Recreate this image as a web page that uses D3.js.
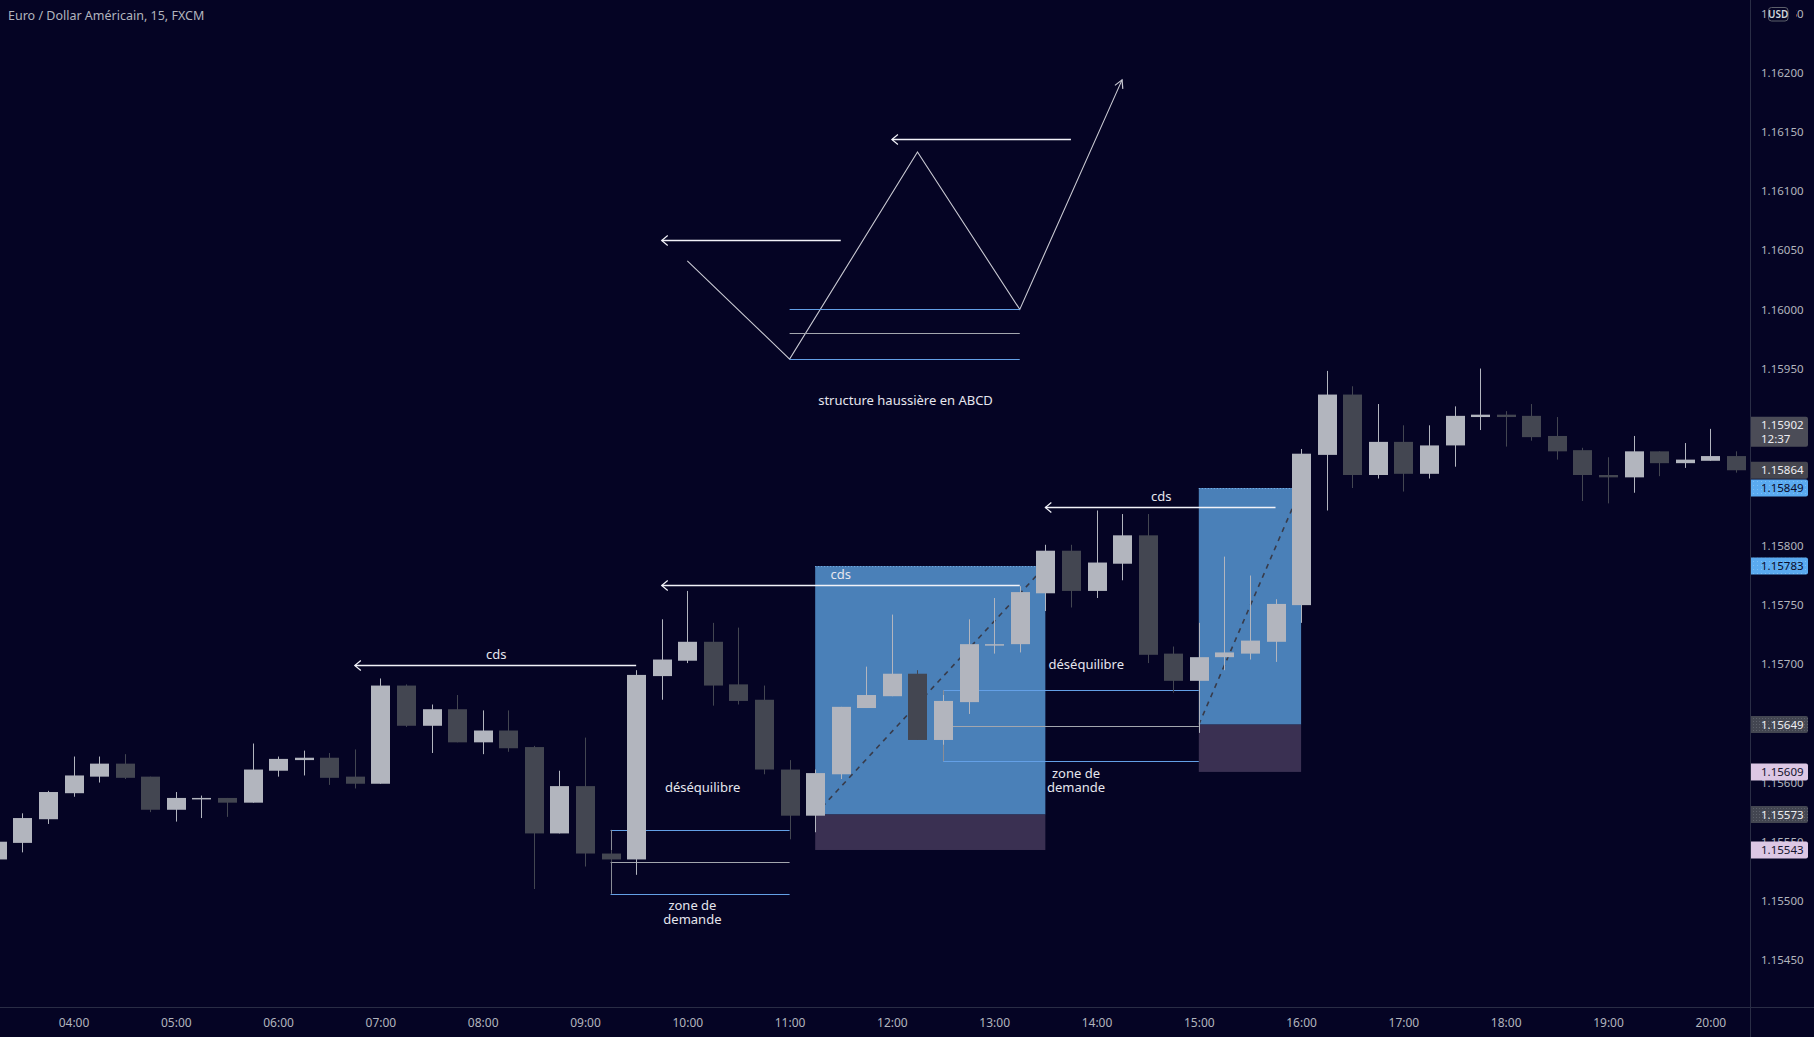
<!DOCTYPE html>
<html><head><meta charset="utf-8">
<script src="https://cdn.jsdelivr.net/npm/d3@7"></script>
<style>body{margin:0;background:#050424;overflow:hidden} svg{display:block}</style>
</head><body>
<svg id="c" width="1814" height="1037"></svg>
<script>
// ---------------- DATA ----------------
const times = ["03:15","03:30","03:45","04:00","04:15","04:30","04:45","05:00","05:15","05:30","05:45",
"06:00","06:15","06:30","06:45","07:00","07:15","07:30","07:45","08:00","08:15","08:30","08:45",
"09:00","09:15","09:30","09:45","10:00","10:15","10:30","10:45","11:00","11:15","11:30","11:45",
"12:00","12:15","12:30","12:45","13:00","13:15","13:30","13:45","14:00","14:15","14:30","14:45",
"15:00","15:15","15:30","15:45","16:00","16:15","16:30","16:45","17:00","17:15","17:30","17:45",
"18:00","18:15","18:30","18:45","19:00","19:15","19:30","19:45","20:00","20:15"];
const opens  = [1.15535,1.15549,1.15569,1.15591,1.15605,1.15616,1.15605,1.15577,1.15586,1.15587,1.15583,
1.15610,1.15619,1.15621,1.15605,1.15599,1.15682,1.15648,1.15662,1.15634,1.15644,1.15630,1.15557,
1.15597,1.15540,1.15535,1.15690,1.15703,1.15719,1.15683,1.15670,1.15611,1.15572,1.15607,1.15663,
1.15673,1.15692,1.15636,1.15668,1.15716,1.15717,1.15760,1.15796,1.15762,1.15785,1.15809,1.15709,
1.15686,1.15706,1.15709,1.15719,1.15750,1.15877,1.15928,1.15860,1.15888,1.15861,1.15885,1.15909,
1.15911,1.15910,1.15893,1.15881,1.15860,1.15858,1.15880,1.15870,1.15872,1.15876];
const highs  = [1.15553,1.15574,1.15593,1.15622,1.15622,1.15624,1.15605,1.15592,1.15589,1.15587,1.15633,
1.15622,1.15627,1.15625,1.15628,1.15688,1.15683,1.15666,1.15674,1.15661,1.15661,1.15631,1.15610,
1.15638,1.15543,1.15695,1.15738,1.15762,1.15735,1.15731,1.15682,1.15619,1.15611,1.15664,1.15698,
1.15742,1.15695,1.15674,1.15738,1.15756,1.15766,1.15801,1.15801,1.15830,1.15827,1.15827,1.15715,
1.15735,1.15791,1.15775,1.15755,1.15882,1.15948,1.15935,1.15920,1.15902,1.15902,1.15918,1.15950,
1.15914,1.15920,1.15909,1.15883,1.15875,1.15893,1.15880,1.15887,1.15899,1.15880];
const lows   = [1.15530,1.15541,1.15565,1.15588,1.15600,1.15603,1.15575,1.15567,1.15570,1.15571,1.15583,
1.15605,1.15606,1.15598,1.15595,1.15599,1.15647,1.15625,1.15634,1.15624,1.15626,1.15510,1.15557,
1.15529,1.15533,1.15522,1.15670,1.15701,1.15665,1.15666,1.15607,1.15552,1.15558,1.15603,1.15663,
1.15673,1.15636,1.15632,1.15658,1.15709,1.15710,1.15745,1.15748,1.15756,1.15771,1.15701,1.15676,
1.15642,1.15695,1.15704,1.15702,1.15735,1.15830,1.15849,1.15857,1.15846,1.15857,1.15867,1.15898,
1.15884,1.15889,1.15873,1.15838,1.15836,1.15845,1.15859,1.15866,1.15872,1.15862];
const closes = [1.15550,1.15570,1.15592,1.15606,1.15616,1.15604,1.15577,1.15587,1.15587,1.15583,1.15611,
1.15620,1.15621,1.15604,1.15599,1.15682,1.15648,1.15662,1.15634,1.15644,1.15629,1.15557,1.15597,
1.15540,1.15535,1.15691,1.15704,1.15719,1.15682,1.15669,1.15611,1.15572,1.15608,1.15664,1.15674,
1.15692,1.15636,1.15669,1.15717,1.15717,1.15761,1.15796,1.15762,1.15786,1.15809,1.15708,1.15686,
1.15706,1.15710,1.15720,1.15751,1.15878,1.15928,1.15860,1.15888,1.15861,1.15885,1.15910,1.15911,
1.15909,1.15892,1.15880,1.15860,1.15858,1.15880,1.15870,1.15873,1.15876,1.15864];

const hourLabels = ["04:00","05:00","06:00","07:00","08:00","09:00","10:00","11:00","12:00",
"13:00","14:00","15:00","16:00","17:00","18:00","19:00","20:00"];
const priceTicks = [1.16250,1.16200,1.16150,1.16100,1.16050,1.16000,1.15950,1.15900,1.15850,
1.15800,1.15750,1.15700,1.15650,1.15600,1.15550,1.15500,1.15450];
const hiddenTicks = [1.15900,1.15850,1.15650];

const title = "Euro / Dollar Américain, 15, FXCM";
const currency = "USD";

// right-axis price labels (role -> look chosen in code)
const axisLabelPrices = [1.15902,1.15864,1.15849,1.15783,1.15649,1.15609,1.15573,1.15543];
const axisLabelRoles  = ["countdown","lastClose","zoneTop","zoneTop","zoneMid","zoneBottom","zoneMid","zoneBottom"];
const countdownText = "12:37";

// ABCD sketch
const abcdPoints = [["10:00",1.16041],["11:00",1.15958],["12:15",1.16133],["13:15",1.16000],["14:15",1.16194]];
const abcdArrows = [{from:"11:30",to:"09:45",price:1.16059},{from:"13:45",to:"12:00",price:1.16144}];
const abcdLevels = [{from:"11:00",to:"13:15",price:1.16000,role:"edge"},
                    {from:"11:00",to:"13:15",price:1.15980,role:"mid"},
                    {from:"11:00",to:"13:15",price:1.15958,role:"edge"}];
const abcdText = {time:"12:08",price:1.15923,text:"structure haussière en ABCD"};

// "cds" arrows
const cdsArrows = [
  {from:"09:30",to:"06:45",price:1.15699,labelTime:"08:08",labelPrice:1.15708},
  {from:"13:15",to:"09:45",price:1.15767,labelTime:"11:30",labelPrice:1.15776},
  {from:"15:45",to:"13:30",price:1.15833,labelTime:"14:38",labelPrice:1.15842}];

// position boxes
const boxes = [
  {start:"11:15",end:"13:30",top:1.15783,mid:1.15573,bottom:1.15543},
  {start:"15:00",end:"16:00",top:1.15849,mid:1.15649,bottom:1.15609}];

// demand zones
const zones = [
  {start:"09:15",end:"11:00",top:1.15560,mid:1.15533,bottom:1.15506,labelTime:"10:03",labelPrice:1.15496},
  {start:"12:30",end:"15:00",top:1.15678,mid:1.15648,bottom:1.15618,labelTime:"13:48",labelPrice:1.15608}];
const zoneLabel = ["zone de","demande"];

const imbalanceLabels = [{time:"10:09",price:1.15596},{time:"13:54",price:1.15700}];
const imbalanceText = "déséquilibre";

// ---------------- DRAW ----------------
const W=1814, H=1037, plotR=1750, plotB=1007;
const BG="#050424", UP="#b2b5be", DOWN="#434651", TXT="#b2b5be", NOTE="#e6e6ee";
const FONT="'Noto Sans', 'Open Sans', sans-serif";
const AX=11.5;
const toMin = s => { const [h,m]=s.split(":").map(Number); return h*60+m; };
const x = d3.scaleLinear().domain([toMin("04:00"), toMin("20:00")]).range([73.5, 1710.3]);
const y = d3.scaleLinear().domain([1.16200, 1.15450]).range([72.8, 960]);

const svg = d3.select("#c");
svg.append("rect").attr("width",W).attr("height",H).attr("fill",BG);

const defs = svg.append("defs");
defs.append("clipPath").attr("id","plot").append("rect").attr("width",plotR).attr("height",plotB);
const pat = defs.append("pattern").attr("id","dots").attr("width",3).attr("height",3).attr("patternUnits","userSpaceOnUse");
pat.append("rect").attr("width",3).attr("height",3).attr("fill","#434651");
pat.append("rect").attr("x",1).attr("y",1).attr("width",1).attr("height",1).attr("fill","#5d606b");
const patB = defs.append("pattern").attr("id","dotsB").attr("width",4).attr("height",4).attr("patternUnits","userSpaceOnUse");
patB.append("rect").attr("width",4).attr("height",4).attr("fill","#5aaaf0");
patB.append("rect").attr("x",1).attr("y",1).attr("width",1).attr("height",1).attr("fill","#7cc0f6");

const plot = svg.append("g").attr("clip-path","url(#plot)");

// boxes
boxes.forEach(b=>{
  const x0=x(toMin(b.start)), x1=x(toMin(b.end));
  plot.append("rect").attr("x",x0).attr("y",y(b.top)).attr("width",x1-x0).attr("height",y(b.mid)-y(b.top)).attr("fill","#4a80b8");
  plot.append("rect").attr("x",x0).attr("y",y(b.mid)).attr("width",x1-x0).attr("height",y(b.bottom)-y(b.mid)).attr("fill","#3a3052");
  plot.append("line").attr("x1",x0).attr("x2",x1).attr("y1",y(b.top)+0.5).attr("y2",y(b.top)+0.5)
    .attr("stroke","#7fb6ee").attr("stroke-width",1).attr("stroke-dasharray","1,2");
  plot.append("line").attr("x1",x0).attr("y1",y(b.mid)).attr("x2",x1).attr("y2",y(b.top))
    .attr("stroke","#383b4a").attr("stroke-width",1.6).attr("stroke-dasharray","5,5");
});

// zones
zones.forEach(z=>{
  const x0=x(toMin(z.start)), x1=x(toMin(z.end));
  [["top","#64a0e6"],["mid","#a3a6ae"],["bottom","#64a0e6"]].forEach(([k,c])=>{
    plot.append("line").attr("x1",x0).attr("x2",x1).attr("y1",Math.round(y(z[k]))+0.5).attr("y2",Math.round(y(z[k]))+0.5)
      .attr("stroke",c).attr("stroke-width",1);
  });
  plot.append("line").attr("x1",Math.round(x0)+0.5).attr("x2",Math.round(x0)+0.5).attr("y1",y(z.top)).attr("y2",y(z.bottom))
    .attr("stroke","#8a8d96").attr("stroke-width",1);
});

// candles
const candles = times.map((t,i)=>({t:toMin(t),o:opens[i],h:highs[i],l:lows[i],c:closes[i]}));
const bw = 19;
const cg = plot.append("g");
cg.selectAll("line.w").data(candles).join("line").attr("class","w")
  .attr("x1",d=>Math.round(x(d.t))+0.5).attr("x2",d=>Math.round(x(d.t))+0.5)
  .attr("y1",d=>y(d.h)).attr("y2",d=>y(d.l))
  .attr("stroke",d=>d.c>=d.o?UP:DOWN).attr("stroke-width",1);
cg.selectAll("rect.b").data(candles).join("rect").attr("class","b")
  .attr("x",d=>Math.round(x(d.t))+0.5-bw/2).attr("width",bw)
  .attr("y",d=>y(Math.max(d.o,d.c)))
  .attr("height",d=>Math.max(1.5,Math.abs(y(d.o)-y(d.c))))
  .attr("fill",d=>d.c>=d.o?UP:DOWN);

// arrows helper
function arrowLeft(g,xa,xb,yy,col,w){
  g.append("line").attr("x1",xa).attr("x2",xb).attr("y1",yy).attr("y2",yy).attr("stroke",col).attr("stroke-width",w);
  g.append("path").attr("d",`M${xb+6},${yy-5}L${xb},${yy}L${xb+6},${yy+5}`).attr("fill","none").attr("stroke",col).attr("stroke-width",1.2);
}

// ABCD
const line = d3.line().x(d=>x(toMin(d[0]))).y(d=>y(d[1]));
plot.append("path").attr("d",line(abcdPoints)).attr("fill","none").attr("stroke","#c9c9d2").attr("stroke-width",1.1);
{
  const a=abcdPoints[abcdPoints.length-2], b=abcdPoints[abcdPoints.length-1];
  const bx=x(toMin(b[0])), by=y(b[1]), ax=x(toMin(a[0])), ay=y(a[1]);
  const ang=Math.atan2(by-ay,bx-ax), L=9, s=0.5;
  const p1=[bx-L*Math.cos(ang-s), by-L*Math.sin(ang-s)], p2=[bx-L*Math.cos(ang+s), by-L*Math.sin(ang+s)];
  plot.append("path").attr("d",`M${p1}L${bx},${by}L${p2}`).attr("fill","none").attr("stroke","#c9c9d2").attr("stroke-width",1.2);
}
abcdArrows.forEach(a=>arrowLeft(plot,x(toMin(a.from)),x(toMin(a.to)),Math.round(y(a.price))+0.5,"#f2f2f8",1.4));
abcdLevels.forEach(l=>{
  plot.append("line").attr("x1",x(toMin(l.from))).attr("x2",x(toMin(l.to)))
    .attr("y1",Math.round(y(l.price))+0.5).attr("y2",Math.round(y(l.price))+0.5)
    .attr("stroke",l.role==="edge"?"#64a0e6":"#a3a6ae").attr("stroke-width",1);
});
plot.append("text").attr("x",x(toMin(abcdText.time))).attr("y",y(abcdText.price)).attr("dy","0.35em")
  .attr("text-anchor","middle").attr("fill",NOTE).attr("font-family",FONT).attr("font-size",13).text(abcdText.text);

// cds arrows
cdsArrows.forEach(a=>{
  arrowLeft(plot,x(toMin(a.from)),x(toMin(a.to)),Math.round(y(a.price))+0.5,"#f2f2f8",1.4);
  plot.append("text").attr("x",x(toMin(a.labelTime))).attr("y",y(a.labelPrice)).attr("dy","0.35em")
    .attr("text-anchor","middle").attr("fill",NOTE).attr("font-family",FONT).attr("font-size",13).text("cds");
});

// zone labels
zones.forEach(z=>{
  const t=plot.append("text").attr("x",x(toMin(z.labelTime))).attr("y",y(z.labelPrice)).attr("dy","0.35em")
    .attr("text-anchor","middle").attr("fill",NOTE).attr("font-family",FONT).attr("font-size",13);
  zoneLabel.forEach((s,i)=>t.append("tspan").attr("x",x(toMin(z.labelTime))).attr("dy",i===0?"0.35em":"1.07em").text(s));
});
imbalanceLabels.forEach(d=>{
  plot.append("text").attr("x",x(toMin(d.time))).attr("y",y(d.price)).attr("dy","0.35em")
    .attr("text-anchor","middle").attr("fill",NOTE).attr("font-family",FONT).attr("font-size",13).text(imbalanceText);
});

// axes frame
svg.append("line").attr("x1",plotR+0.5).attr("x2",plotR+0.5).attr("y1",0).attr("y2",H).attr("stroke","#2a2d45");
svg.append("line").attr("x1",0).attr("x2",W).attr("y1",plotB+0.5).attr("y2",plotB+0.5).attr("stroke","#2a2d45");

// y axis
const yAxis = svg.append("g").attr("transform",`translate(${plotR},0)`)
  .call(d3.axisRight(y).tickValues(priceTicks.filter(p=>!hiddenTicks.includes(p))).tickFormat(d3.format(".5f")).tickSize(0).tickPadding(11));
yAxis.select(".domain").remove();
yAxis.selectAll("text").attr("fill",TXT).attr("font-family",FONT).attr("font-size",AX);

// x axis
const xAxis = svg.append("g").attr("transform",`translate(0,${plotB})`)
  .call(d3.axisBottom(x).tickValues(hourLabels.map(toMin)).tickFormat((d,i)=>hourLabels[i]).tickSize(0).tickPadding(11));
xAxis.select(".domain").remove();
xAxis.selectAll("text").attr("fill",TXT).attr("font-family",FONT).attr("font-size",12);

// right axis labels
axisLabelPrices.forEach((p,i)=>{
  const role=axisLabelRoles[i], yy=y(p);
  let fill="#4b4c57", tc="#eeeef2";
  if(role==="zoneTop"){fill="url(#dotsB)"; tc="#0b0b2a";}
  if(role==="zoneBottom"){fill="#dcc7e4"; tc="#14142e";}
  if(role==="zoneMid"){fill="url(#dots)"; tc="#eeeef2";}
  if(role==="lastClose"){fill="#45464f";}
  const h = role==="countdown"?30:17;
  svg.append("path").attr("d",`M${plotR+1},${yy-8.5}H1806a2,2 0 0 1 2,2V${yy-8.5+h-2}a2,2 0 0 1 -2,2H${plotR+1}Z`).attr("fill",fill);
  svg.append("text").attr("x",1761).attr("y",yy).attr("dy","0.35em").attr("fill",tc).attr("font-family",FONT).attr("font-size",AX).text(d3.format(".5f")(p));
  if(role==="countdown") svg.append("text").attr("x",1761).attr("y",yy+14).attr("dy","0.35em").attr("fill",tc).attr("font-family",FONT).attr("font-size",AX).text(countdownText);
});

// currency badge (sits over the top tick label, as in the original)
svg.append("rect").attr("x",1767).attr("y",4).attr("width",29).attr("height",20).attr("fill",BG);
svg.append("rect").attr("x",1768.5).attr("y",7.5).attr("width",19.5).attr("height",13.5).attr("rx",3).attr("fill",BG).attr("stroke","#5d606b");
svg.append("text").attr("x",1778.25).attr("y",14.3).attr("dy","0.35em").attr("text-anchor","middle").attr("fill","#d1d4dc")
  .attr("font-family",FONT).attr("font-size",10).attr("font-weight",600).text(currency);

// title
svg.append("text").attr("x",8).attr("y",16).attr("dy","0.35em").attr("fill",TXT).attr("font-family",FONT).attr("font-size",12.5).text(title);
</script>
</body></html>
